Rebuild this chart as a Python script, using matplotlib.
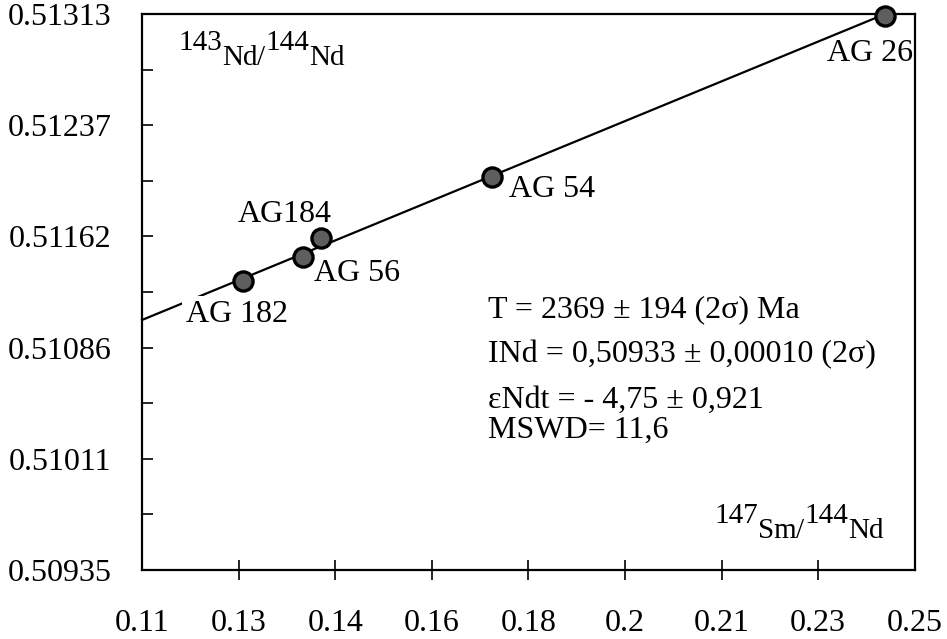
import numpy as np
import matplotlib
matplotlib.use("Agg")
import matplotlib.pyplot as plt
from matplotlib.text import Annotation

plt.rcParams['font.family'] = ['Liberation Serif', 'DejaVu Serif']

# Data
samples = ['AG 182', 'AG 56', 'AG184', 'AG 54', 'AG 26']
sm_nd = [0.1283, 0.1392, 0.1424, 0.1734, 0.2446]
nd_nd = [0.511315, 0.511478, 0.511607, 0.512022, 0.51312]

fit_x = [0.110, 0.2446]
fit_y = [0.51105, 0.51313]

x_tick_labels = ['0.11', '0.13', '0.14', '0.16', '0.18', '0.2', '0.21', '0.23', '0.25']
y_tick_labels = ['0.50935', '0.51011', '0.51086', '0.51162', '0.51237', '0.51313']

stats = ['T = 2369 ± 194 (2σ) Ma',
         'INd = 0,50933 ± 0,00010 (2σ)',
         'εNdt = - 4,75 ± 0,921',
         'MSWD= 11,6']

y_axis_title = [('143', True), ('Nd', False), ('/', False), ('144', True), ('Nd', False)]
x_axis_title = [('147', True), ('Sm', False), ('/', False), ('144', True), ('Nd', False)]

xmin, xmax = 0.11, 0.25
ymin, ymax = 0.50935, 0.51313

fig = plt.figure(figsize=(9.47, 6.39), dpi=100)
ax = fig.add_axes([0.150, 0.108, 0.816, 0.870])
ax.set_xlim(xmin, xmax)
ax.set_ylim(ymin, ymax)

for s in ax.spines.values():
    s.set_linewidth(1.6)

ax.plot(fit_x, fit_y, color='black', lw=1.6, zorder=2, clip_on=False)
ax.scatter(sm_nd, nd_nd, s=190, facecolor='#5e5e5e', edgecolor='black',
           linewidths=2.4, zorder=4, clip_on=False)

fs = 23
label_offsets = {
    'AG 182': (-41, -24, 'left'),
    'AG 56': (8, -12, 'left'),
    'AG184': (-60, 17, 'left'),
    'AG 54': (12, -9, 'left'),
    'AG 26': (20, -27, 'right'),
}
for name, x, y in zip(samples, sm_nd, nd_nd):
    dx, dy, ha = label_offsets[name]
    kw = {}
    if name == 'AG 182':
        kw['bbox'] = dict(facecolor='white', edgecolor='none', pad=3)
    ax.annotate(name, (x, y), xytext=(dx, dy), textcoords='offset points',
                ha=ha, va='center', fontsize=fs, zorder=3, **kw)

stat_y = [310, 355, 400, 430]
for txt, py in zip(stats, stat_y):
    fig.text(488 / 947, 1 - py / 639, txt, fontsize=fs, ha='left', va='center')


def chained_label(pieces, x0, y0, size, rise_pt):
    last = None
    prev_raised = False
    for txt, raised in pieces:
        if last is None:
            last = fig.add_artist(Annotation(
                txt, xy=(x0, y0), xycoords='figure fraction',
                xytext=(0, rise_pt if raised else 0), textcoords='offset points',
                fontsize=size, ha='left', va='bottom'))
        else:
            dy = 0
            if raised and not prev_raised:
                dy = rise_pt
            elif prev_raised and not raised:
                dy = -rise_pt
            last = fig.add_artist(Annotation(
                txt, xy=(1, 0), xycoords=last, xytext=(0, dy),
                textcoords='offset points', fontsize=size,
                ha='left', va='bottom'))
        prev_raised = raised


chained_label(y_axis_title, 178 / 947, 1 - 71 / 639, 21, 11)
chained_label(x_axis_title, 714 / 947, 1 - 544 / 639, 21, 11)

xt = np.linspace(xmin, xmax, len(x_tick_labels))
ax.set_xticks(xt)
ax.set_xticklabels(x_tick_labels, fontsize=fs)
ax.tick_params(axis='x', direction='inout', length=14, width=1.2, pad=21)
xticks = ax.xaxis.get_major_ticks()
for t in (xticks[0], xticks[-1]):
    t.tick1line.set_visible(False)

yt = np.linspace(ymin, ymax, len(y_tick_labels))
ax.set_yticks(yt)
ax.set_yticklabels(y_tick_labels, fontsize=fs)
ax.set_yticks((yt[:-1] + yt[1:]) / 2, minor=True)
ax.tick_params(axis='y', which='both', direction='in', length=8, width=1.2, pad=22)

fig.savefig('out.png', dpi=100)
